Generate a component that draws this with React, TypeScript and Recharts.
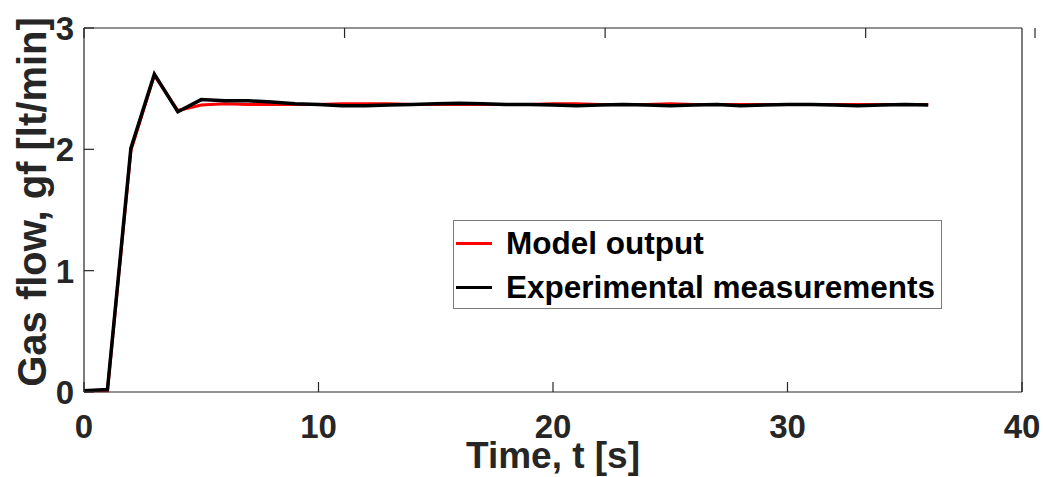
import { LineChart, Line, XAxis, YAxis, Legend, Label } from 'recharts';

// time steps (s)
const timeS = [
  0, 1, 2, 3, 4, 5, 6, 7, 8, 9, 10, 11, 12, 13, 14, 15, 16, 17, 18,
  19, 20, 21, 22, 23, 24, 25, 26, 27, 28, 29, 30, 31, 32, 33, 34, 35, 36,
];

// gas flow, model (lt/min)
const modelOutput = [
  0.01, 0.01, 1.99, 2.61, 2.32, 2.365, 2.375, 2.37, 2.37, 2.37, 2.37, 2.375, 2.375, 2.375, 2.37, 2.37, 2.37, 2.37, 2.37,
  2.37, 2.375, 2.375, 2.37, 2.37, 2.37, 2.375, 2.37, 2.37, 2.37, 2.37, 2.37, 2.37, 2.37, 2.37, 2.37, 2.37, 2.37,
];

// gas flow, measured (lt/min)
const experimental = [
  0.01, 0.02, 2.01, 2.62, 2.31, 2.41, 2.4, 2.4, 2.39, 2.375, 2.37, 2.36, 2.36, 2.365, 2.37, 2.375, 2.38, 2.375, 2.37,
  2.37, 2.365, 2.36, 2.365, 2.37, 2.365, 2.36, 2.365, 2.37, 2.36, 2.365, 2.37, 2.37, 2.365, 2.36, 2.365, 2.37, 2.365,
];

const seriesNames = ['Model output', 'Experimental measurements'];
const xTicks = [0, 10, 20, 30, 40];
const yTicks = [0, 1, 2, 3];

const data = timeS.map((t, i) => ({ t, model: modelOutput[i], exp: experimental[i] }));

const FONT = '"Liberation Sans", Arial, Helvetica, sans-serif';
const INK = '#262626';
const TICK_LEN = 10;

// ─── ticks (MATLAB style, pointing inward) ───────────────────────────────────
function BottomTick({ x, y, payload }: any) {
  return (
    <g>
      <line x1={x} x2={x} y1={y} y2={y - TICK_LEN} stroke={INK} strokeWidth={1.2} />
      <text x={x} y={y + 46} textAnchor="middle" fill={INK} fontFamily={FONT} fontWeight={700} fontSize={33}>
        {payload.value}
      </text>
    </g>
  );
}

function LeftTick({ x, y, payload }: any) {
  return (
    <g>
      <line x1={x} x2={x + TICK_LEN} y1={y} y2={y} stroke={INK} strokeWidth={1.2} />
      <text x={x - 10} y={y + 12} textAnchor="end" fill={INK} fontFamily={FONT} fontWeight={700} fontSize={33}>
        {payload.value}
      </text>
    </g>
  );
}

function TopTick({ x, y }: any) {
  return <line x1={x} x2={x} y1={y} y2={y + TICK_LEN} stroke={INK} strokeWidth={1.2} />;
}

function RightTick({ x, y }: any) {
  return <line x1={x} x2={x - TICK_LEN} y1={y} y2={y} stroke={INK} strokeWidth={1.2} />;
}

// ─── axis titles ─────────────────────────────────────────────────────────────
function XTitle({ viewBox }: any) {
  const cx = viewBox.x + viewBox.width / 2;
  return (
    <text x={cx} y={viewBox.y + 76} textAnchor="middle" fill={INK} fontFamily={FONT} fontWeight={700} fontSize={37}>
      Time, t [s]
    </text>
  );
}

function YTitle({ viewBox }: any) {
  const cx = 32;
  const cy = viewBox.y + viewBox.height / 2 - 8;
  return (
    <text
      x={cx}
      y={cy}
      transform={`rotate(-90 ${cx} ${cy})`}
      textAnchor="middle"
      dominantBaseline="central"
      fill={INK}
      fontFamily={FONT}
      fontWeight={700}
      fontSize={40}
    >
      Gas flow, gf [lt/min]
    </text>
  );
}

// ─── legend ──────────────────────────────────────────────────────────────────
function LegendBox({ payload }: any) {
  const items = [...(payload || [])].sort(
    (a: any, b: any) => seriesNames.indexOf(a.value) - seriesNames.indexOf(b.value),
  );
  return (
    <div
      style={{
        boxSizing: 'border-box',
        width: 489,
        height: 89,
        border: '1px solid #7a7a7a',
        background: '#fff',
        fontFamily: FONT,
        fontWeight: 700,
        fontSize: 31.5,
        color: '#000',
      }}
    >
      {items.map((p: any) => (
        <div key={p.value} style={{ display: 'flex', alignItems: 'center', height: 44 }}>
          <span style={{ display: 'inline-block', width: 36, height: 3, background: p.color, marginLeft: 2, marginRight: 14 }} />
          <span>{p.value}</span>
        </div>
      ))}
    </div>
  );
}

export default function App() {
  return (
    <div style={{ position: 'absolute', left: 0, top: 0, width: 1043, height: 477, background: '#fff' }}>
      <LineChart width={1043} height={477} data={data} margin={{ top: 27, right: 20, bottom: 0, left: 24 }}>
        <XAxis
          dataKey="t"
          type="number"
          domain={[0, 40]}
          ticks={xTicks}
          height={85}
          tickSize={0}
          tickMargin={0}
          tickLine={false}
          tick={<BottomTick />}
          axisLine={{ stroke: INK, strokeWidth: 1.2 }}
        >
          <Label content={<XTitle />} />
        </XAxis>
        <XAxis
          xAxisId="top"
          orientation="top"
          type="number"
          domain={[0, 40]}
          ticks={xTicks}
          height={1}
          tickSize={0}
          tickMargin={0}
          tickLine={false}
          tick={<TopTick />}
          axisLine={{ stroke: INK, strokeWidth: 1.2 }}
        />
        <YAxis
          type="number"
          domain={[0, 3]}
          ticks={yTicks}
          width={60}
          tickSize={0}
          tickMargin={0}
          tickLine={false}
          tick={<LeftTick />}
          axisLine={{ stroke: INK, strokeWidth: 1.2 }}
        >
          <Label content={<YTitle />} />
        </YAxis>
        <YAxis
          yAxisId="right"
          orientation="right"
          type="number"
          domain={[0, 3]}
          ticks={yTicks}
          width={1}
          tickSize={0}
          tickMargin={0}
          tickLine={false}
          tick={<RightTick />}
          axisLine={{ stroke: INK, strokeWidth: 1.2 }}
        />
        <Legend
          layout="vertical"
          align="center"
          verticalAlign="middle"
          wrapperStyle={{ left: 453, top: 220 }}
          content={<LegendBox />}
        />
        <Line
          type="linear"
          dataKey="model"
          name={seriesNames[0]}
          stroke="#ff0000"
          strokeWidth={3}
          dot={false}
          activeDot={false}
          isAnimationActive={false}
        />
        <Line
          type="linear"
          dataKey="exp"
          name={seriesNames[1]}
          stroke="#000000"
          strokeWidth={3.5}
          dot={false}
          activeDot={false}
          isAnimationActive={false}
        />
      </LineChart>
    </div>
  );
}
